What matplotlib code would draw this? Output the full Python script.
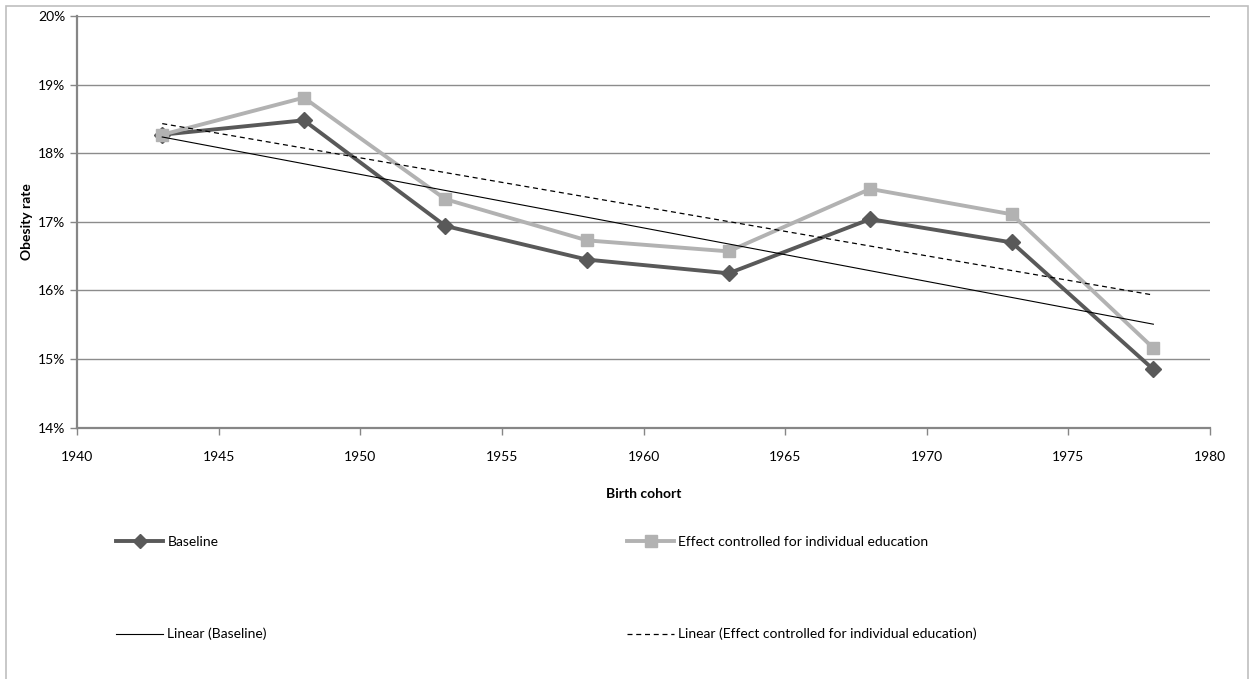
import numpy as np
import matplotlib
matplotlib.use("Agg")
import matplotlib.pyplot as plt
from matplotlib.lines import Line2D
from matplotlib.patches import Rectangle
from matplotlib.ticker import FuncFormatter

# data (obesity rate, %)
cohorts = [1943, 1948, 1953, 1958, 1963, 1968, 1973, 1978]
baseline = [18.27, 18.48, 16.94, 16.45, 16.25, 17.04, 16.70, 14.85]
controlled = [18.27, 18.81, 17.33, 16.73, 16.57, 17.48, 17.11, 15.16]
x_ticks = [1940, 1945, 1950, 1955, 1960, 1965, 1970, 1975, 1980]
y_ticks = [14, 15, 16, 17, 18, 19, 20]

plt.rcParams['font.family'] = ['Lato', 'DejaVu Sans']
plt.rcParams['font.size'] = 10

fig = plt.figure(figsize=(12.51, 6.79), dpi=100)
W, H = 1251, 679
ax = fig.add_axes([77.3 / W, 1 - 427.7 / H, (1210 - 77.3) / W, (427.7 - 16) / H])

# outer chart border
fig.patches.append(Rectangle((6 / W, -0.01), (1248 - 6) / W, 1 - 5.7 / H + 0.01,
                             transform=fig.transFigure, fill=False,
                             edgecolor='#bfbfbf', linewidth=1.2))

dark = '#595959'
light = '#b2b2b2'

ax.plot(cohorts, baseline, color=dark, lw=2.8, marker='D', ms=8, zorder=3)
ax.plot(cohorts, controlled, color=light, lw=2.8, marker='s', ms=9, zorder=3)

# linear trend lines
xs = np.array(cohorts, dtype=float)
b1 = np.polyfit(xs, baseline, 1)
b2 = np.polyfit(xs, controlled, 1)
ax.plot(xs, np.polyval(b1, xs), color='black', lw=0.8, zorder=4)
ax.plot(xs, np.polyval(b2, xs), color='black', lw=0.9, ls=(0, (4, 3)), zorder=4)

ax.set_xlim(1940, 1980)
ax.set_ylim(14, 20)
ax.set_xticks(x_ticks)
ax.set_yticks(y_ticks)
ax.yaxis.set_major_formatter(FuncFormatter(lambda v, p: '%d%%' % v))
ax.grid(axis='y', color='#8c8c8c', lw=1.0)
ax.set_axisbelow(True)
for s in ['top', 'right']:
    ax.spines[s].set_visible(False)
for s in ['left', 'bottom']:
    ax.spines[s].set_color('#868686')
    ax.spines[s].set_linewidth(1.6)
ax.tick_params(axis='both', colors='#868686', length=5, width=1, labelcolor='black',
               labelsize=10)
ax.tick_params(axis='x', pad=12)

ax.set_xlabel('Birth cohort', fontweight='bold', labelpad=18)
ax.set_ylabel('Obesity rate', fontweight='bold', labelpad=4)

h1 = Line2D([], [], color=dark, lw=2.8, marker='D', ms=7)
h2 = Line2D([], [], color=light, lw=2.8, marker='s', ms=8)
h3 = Line2D([], [], color='black', lw=0.8)
h4 = Line2D([], [], color='black', lw=0.9, ls=(0, (4, 3)))

common = dict(loc='upper left', frameon=False, borderpad=0, borderaxespad=0,
              handlelength=3.4, handletextpad=0.3, labelspacing=5.75, fontsize=10)
fig.legend([h1, h3], ['Baseline', 'Linear (Baseline)'],
           bbox_to_anchor=(116 / W, 1 - 536 / H), **common)
fig.legend([h2, h4], ['Effect controlled for individual education',
                      'Linear (Effect controlled for individual education)'],
           bbox_to_anchor=(627 / W, 1 - 536 / H), **common)

fig.savefig('out.png', dpi=100)
